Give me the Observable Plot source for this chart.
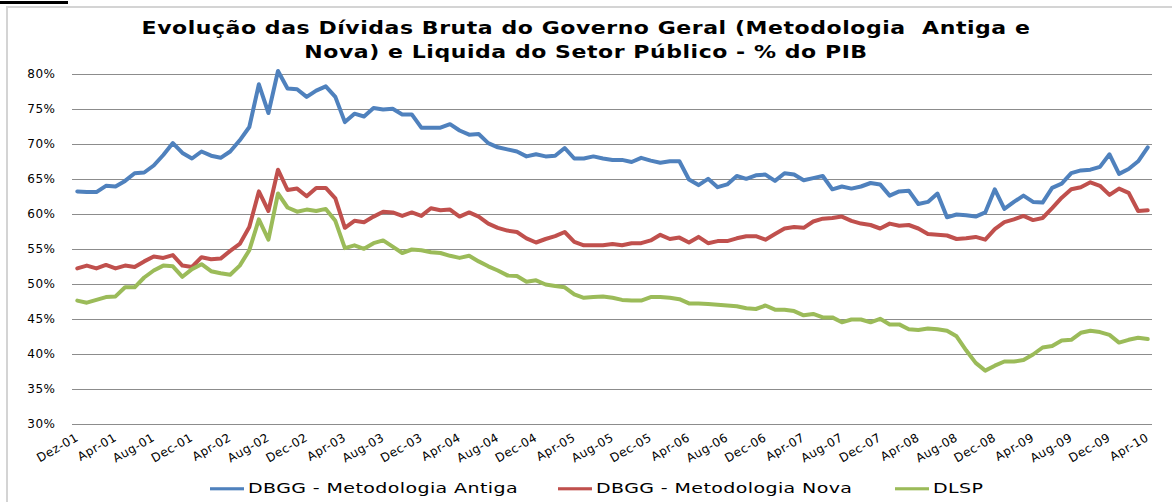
<!DOCTYPE html>
<html>
<head>
<meta charset="utf-8">
<script src="https://cdn.jsdelivr.net/npm/d3@7"></script>
<script src="https://cdn.jsdelivr.net/npm/@observablehq/plot@0.6"></script>
<style>
  html, body { margin: 0; padding: 0; background: #fff; }
  #wrap { position: relative; width: 1172px; height: 502px; overflow: hidden; font-family: "DejaVu Sans", sans-serif; }
  #frame { position: absolute; left: 6px; top: 6px; width: 1200px; height: 600px; border-top: 2px solid #d4d4d4; border-left: 2px solid #d4d4d4; }
  #blackbar { position: absolute; left: 0; top: 1px; width: 68px; height: 3px; background: #000; }
  #title { position: absolute; left: 0; width: 1172px; top: 17px; text-align: center; font-weight: bold; font-size: 22px; letter-spacing: 0.55px; line-height: 30px; transform: scaleY(0.78); transform-origin: top center; color: #000; }
  #chart { position: absolute; left: 0; top: 0; }
  #legend { position: absolute; top: 477px; left: 0; width: 1172px; font-size: 19px; letter-spacing: 0.4px; color: #000; }
  .item { position: absolute; top: 0; white-space: nowrap; transform: scaleY(0.78); transform-origin: left center; }
  .sw { display: inline-block; width: 34px; height: 4px; vertical-align: middle; margin-right: 4px; position: relative; top: -1px; }
</style>
</head>
<body>
<div id="wrap">
  <div id="frame"></div>
  <div id="blackbar"></div>
  <div id="chart"></div>
  <div id="title">Evolução das Dívidas Bruta do Governo Geral (Metodologia&nbsp; Antiga e<br>Nova) e Liquida do Setor Público - % do PIB</div>
  <div id="legend"></div>
</div>
<script>
const tickLabels = ["Dez-01","Apr-01","Aug-01","Dec-01","Apr-02","Aug-02","Dec-02","Apr-03","Aug-03","Dec-03","Apr-04","Aug-04","Dec-04","Apr-05","Aug-05","Dec-05","Apr-06","Aug-06","Dec-06","Apr-07","Aug-07","Dec-07","Apr-08","Aug-08","Dec-08","Apr-09","Aug-09","Dec-09","Apr-10"];

const seriesNames = ["DBGG - Metodologia Antiga", "DBGG - Metodologia Nova", "DLSP"];
const seriesColors = ["#4F81BD", "#C0504D", "#9BBB59"];

const dbggAntiga = [63.3,63.2,63.2,64.1,64.0,64.8,65.9,66.0,67.0,68.5,70.2,68.8,68.0,69.0,68.4,68.1,69.0,70.6,72.5,78.6,74.5,80.5,78.0,77.9,76.8,77.7,78.3,76.8,73.2,74.4,74.0,75.2,75.0,75.1,74.3,74.3,72.4,72.4,72.4,72.9,72.0,71.4,71.5,70.2,69.6,69.3,69.0,68.3,68.6,68.3,68.4,69.5,68.0,68.0,68.3,68.0,67.8,67.8,67.5,68.1,67.7,67.4,67.6,67.6,65.0,64.2,65.1,63.9,64.3,65.5,65.1,65.6,65.7,64.8,65.9,65.7,64.9,65.2,65.5,63.6,64.0,63.7,64.0,64.5,64.3,62.7,63.3,63.4,61.5,61.8,63.0,59.6,60.0,59.9,59.7,60.3,63.6,60.8,61.8,62.7,61.8,61.7,63.8,64.4,65.9,66.3,66.4,66.8,68.6,65.8,66.5,67.6,69.6];

const dbggNova = [52.3,52.7,52.3,52.8,52.3,52.7,52.5,53.3,54.0,53.8,54.2,52.7,52.5,53.9,53.6,53.7,54.8,55.8,58.2,63.3,60.5,66.4,63.5,63.7,62.6,63.8,63.8,62.3,58.1,59.1,58.9,59.7,60.4,60.3,59.8,60.3,59.8,60.9,60.6,60.7,59.7,60.3,59.7,58.7,58.1,57.7,57.5,56.6,56.0,56.5,56.9,57.5,56.1,55.6,55.6,55.6,55.8,55.6,55.9,55.9,56.3,57.1,56.5,56.7,56.0,56.8,55.9,56.2,56.2,56.6,56.9,56.9,56.4,57.2,58.0,58.2,58.1,59.0,59.4,59.5,59.7,59.1,58.7,58.5,58.0,58.7,58.4,58.5,58.0,57.2,57.1,57.0,56.5,56.6,56.8,56.4,57.9,58.9,59.3,59.8,59.2,59.5,60.9,62.4,63.6,63.9,64.6,64.1,62.8,63.7,63.1,60.5,60.6];

const dlsp = [47.7,47.4,47.8,48.2,48.3,49.6,49.6,51.0,52.0,52.7,52.6,51.1,52.2,52.9,51.9,51.6,51.4,52.7,54.9,59.3,56.4,63.0,61.0,60.4,60.7,60.5,60.8,59.1,55.2,55.6,55.1,55.9,56.3,55.4,54.5,55.0,54.9,54.6,54.5,54.1,53.8,54.1,53.3,52.6,52.0,51.3,51.2,50.4,50.6,50.0,49.8,49.6,48.6,48.1,48.2,48.3,48.1,47.8,47.7,47.7,48.2,48.2,48.1,47.9,47.3,47.3,47.2,47.1,47.0,46.9,46.6,46.5,47.0,46.4,46.4,46.2,45.6,45.8,45.3,45.3,44.6,45.0,45.0,44.6,45.1,44.3,44.3,43.6,43.5,43.7,43.6,43.4,42.6,40.6,38.8,37.7,38.4,39.0,39.0,39.2,40.0,41.0,41.2,42.0,42.1,43.1,43.4,43.2,42.8,41.7,42.1,42.4,42.2];

const yTicks = [30,35,40,45,50,55,60,65,70,75,80];

const seriesValues = [dbggAntiga, dbggNova, dlsp];
const rows = seriesNames.flatMap((name, k) => seriesValues[k].map((v, i) => ({i, v, name})));
const n = dbggAntiga.length;

const chart = Plot.plot({
  width: 1172,
  height: 502,
  marginTop: 74,
  marginBottom: 78,
  marginLeft: 72,
  marginRight: 20,
  style: {fontFamily: "DejaVu Sans, sans-serif", fontSize: "12px", color: "#000", background: "transparent", overflow: "visible"},
  x: {
    type: "linear",
    domain: [-0.5, n - 0.5],
    ticks: tickLabels.map((_, k) => k * 4),
    tickFormat: d => tickLabels[Math.round(d / 4)],
    tickRotate: -30,
    tickSize: 0,
    tickPadding: 12,
    label: null
  },
  y: {
    domain: [30, 80],
    ticks: yTicks,
    tickFormat: d => d + "%",
    tickSize: 0,
    tickPadding: 17,
    label: null
  },
  color: {domain: seriesNames, range: seriesColors},
  marks: [
    Plot.ruleY(yTicks, {stroke: "#8c8c8c", strokeWidth: 1}),
    Plot.line(rows, {x: "i", y: "v", z: "name", stroke: "name", strokeWidth: 4, strokeLinejoin: "round", strokeLinecap: "round"})
  ]
});
document.getElementById("chart").appendChild(chart);
chart.querySelectorAll("text").forEach(t => t.setAttribute("letter-spacing", "0.5"));

const legend = document.getElementById("legend");
const lefts = [210, 558, 895];
seriesNames.forEach((name, k) => {
  const it = document.createElement("div");
  it.className = "item";
  it.style.left = lefts[k] + "px";
  it.innerHTML = `<span class="sw" style="background:${seriesColors[k]}"></span>${name}`;
  legend.appendChild(it);
});
</script>
</body>
</html>
